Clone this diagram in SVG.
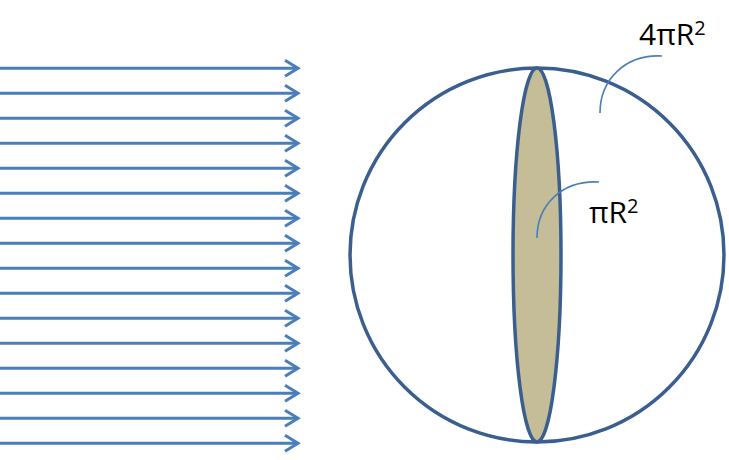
<svg xmlns="http://www.w3.org/2000/svg" width="729" height="460" viewBox="0 0 729 460">
<style>
.ray{stroke:#4A7EBB;stroke-width:3;fill:none}
.head{stroke:#4A7EBB;stroke-width:3;fill:none;stroke-linejoin:miter}
.call{stroke:#4A7EBB;stroke-width:1.6;fill:none}
.lbl{font-family:"Open Sans","Liberation Sans",sans-serif;font-size:30px;fill:#000}
.sup{font-size:20px}
</style>
<defs>
<g id="arrow"><line class="ray" x1="0" y1="0" x2="298" y2="0"/><polyline class="head" points="285,-8 298,0 285,8"/></g>
</defs>
<g id="rays">
<use href="#arrow" y="68.3"/><use href="#arrow" y="93.3"/><use href="#arrow" y="118.3"/><use href="#arrow" y="143.3"/>
<use href="#arrow" y="168.3"/><use href="#arrow" y="193.3"/><use href="#arrow" y="218.3"/><use href="#arrow" y="243.3"/>
<use href="#arrow" y="268.3"/><use href="#arrow" y="293.3"/><use href="#arrow" y="318.3"/><use href="#arrow" y="343.3"/>
<use href="#arrow" y="368.3"/><use href="#arrow" y="393.3"/><use href="#arrow" y="418.3"/><use href="#arrow" y="443.3"/>
</g>
<g id="sphere">
<circle cx="537" cy="255" r="187" fill="#fff" stroke="#3A5F8F" stroke-width="3.5"/>
</g>
<g id="disk">
<ellipse cx="537" cy="255" rx="24" ry="187" fill="#C4BD97" stroke="#3A5F8F" stroke-width="3.5"/>
</g>
<g id="connectors">
<path class="call" d="M537,238 C537,205 562,180 599,182"/>
<path class="call" d="M600,113 C600,80 625,54 662,56"/>
</g>
<g id="label-disk"><text class="lbl" x="589" y="223">πR<tspan class="sup" dy="-10">2</tspan></text></g>
<g id="label-sphere"><text class="lbl" x="639" y="45">4πR<tspan class="sup" dy="-10">2</tspan></text></g>
</svg>
